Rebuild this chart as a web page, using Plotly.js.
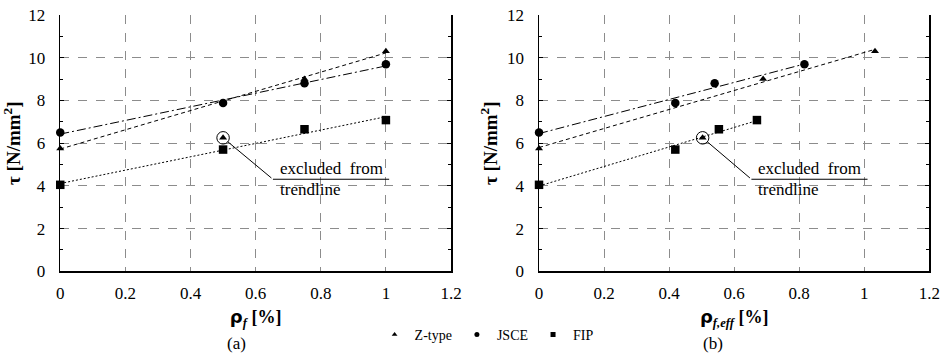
<!DOCTYPE html>
<html>
<head>
<meta charset="utf-8">
<script src="https://cdn.plot.ly/plotly-3.0.1.min.js"></script>
<style>html,body{margin:0;padding:0;background:#fff;}#chart{width:943px;height:353px;}</style>
</head>
<body>
<div id="chart"></div>
<script>
// ---- data ----
const seriesNames = ["Z-type", "JSCE", "FIP"];
const tauZ = [5.75, 6.25, 9.0, 10.3];
const tauJ = [6.5, 7.88, 8.8, 9.7];
const tauF = [4.05, 5.7, 6.65, 7.08];
// (a) nominal fibre ratio
const rhoF_Z = [0, 0.5, 0.75, 1.0];
const rhoF_J = [0, 0.5, 0.75, 1.0];
const rhoF_F = [0, 0.5, 0.75, 1.0];
// (b) effective fibre ratio
const rhoEff_Z = [0, 0.503, 0.689, 1.033];
const rhoEff_J = [0, 0.419, 0.540, 0.816];
const rhoEff_F = [0, 0.419, 0.553, 0.670];
// index of Z-type point excluded from the trendline
const excludedZ = 1;
const xTicks = [0, 0.2, 0.4, 0.6, 0.8, 1, 1.2];
const xTickText = ["0", "0.2", "0.4", "0.6", "0.8", "1", "1.2"];
const yTicks = [0, 2, 4, 6, 8, 10, 12];

// least-squares linear trendline over the included points
function trend(xs, ys, skip) {
  const px = [], py = [];
  xs.forEach((x, i) => { if (i !== skip) { px.push(x); py.push(ys[i]); } });
  const n = px.length;
  const mx = px.reduce((a, b) => a + b, 0) / n, my = py.reduce((a, b) => a + b, 0) / n;
  let sxy = 0, sxx = 0;
  for (let i = 0; i < n; i++) { sxy += (px[i] - mx) * (py[i] - my); sxx += (px[i] - mx) ** 2; }
  const b = sxy / sxx, a = my - b * mx;
  const x0 = Math.min(...px), x1 = Math.max(...px);
  return { x: [x0, x1], y: [a + b * x0, a + b * x1] };
}

const SERIF = "Liberation Serif";
const styles = [
  { sym: "triangle-up", size: 7, dash: "4px,3px" },
  { sym: "circle", size: 8.5, dash: "9px,3px,2px,3px" },
  { sym: "square", size: 8.5, dash: "2px,2px" }
];

function panel(xs, ys, xa, ya) {
  const tr = [];
  xs.forEach((x, k) => {
    const t = trend(x, ys[k], k === 0 ? excludedZ : -1);
    tr.push({ x: t.x, y: t.y, xaxis: xa, yaxis: ya, mode: "lines", showlegend: false,
      line: { color: "#000", width: 1, dash: styles[k].dash }, hoverinfo: "skip" });
  });
  xs.forEach((x, k) => {
    tr.push({ x: x, y: ys[k], xaxis: xa, yaxis: ya, mode: "markers", name: seriesNames[k],
      showlegend: false, cliponaxis: false,
      marker: { symbol: styles[k].sym, size: styles[k].size, color: "#000" } });
  });
  // ring around excluded point
  tr.push({ x: [xs[0][excludedZ]], y: [ys[0][excludedZ]], xaxis: xa, yaxis: ya, mode: "markers",
    showlegend: false, marker: { symbol: "circle-open", size: 12.5, color: "#000", line: { width: 1 } } });
  return tr;
}

const ys = [tauZ, tauJ, tauF];
let traces = [].concat(
  panel([rhoF_Z, rhoF_J, rhoF_F], ys, "x", "y"),
  panel([rhoEff_Z, rhoEff_J, rhoEff_F], ys, "x2", "y2")
);
// legend entries (small symbols as in the reference legend)
seriesNames.forEach((n, k) => {
  traces.push({ x: [null], y: [null], mode: "markers", name: n, xaxis: "x", yaxis: "y",
    marker: { symbol: styles[k].sym, size: 5, color: "#000" } });
});

function xAxis(domain, title) {
  return {
    domain: domain, range: [0, 1.2], tickvals: xTicks, ticktext: xTickText,
    ticks: "", showline: true, linecolor: "#000", linewidth: 1.5,
    showgrid: true, gridcolor: "#8c8c8c", griddash: "dash", gridwidth: 1, zeroline: false,
    tickfont: { family: SERIF, size: 17, color: "#000" }, ticklabelstandoff: 6,
    title: { text: title, font: { family: SERIF, size: 18, color: "#000" }, standoff: 8 }
  };
}
function yAxis(anchor) {
  return {
    domain: [0.2314, 0.9575], range: [0, 12], tickvals: yTicks, anchor: anchor,
    ticks: "inside", ticklen: 4, tickcolor: "#000", tickwidth: 1,
    minor: { tickvals: [1, 3, 5, 7, 9, 11], ticks: "inside", ticklen: 3, tickcolor: "#000", showgrid: false },
    showline: true, mirror: "allticks", linecolor: "#000", linewidth: 1.5,
    showgrid: true, gridcolor: "#8c8c8c", griddash: "dash", gridwidth: 1, zeroline: false,
    tickfont: { family: SERIF, size: 17, color: "#000" }, ticklabelstandoff: 10,
    title: { text: "<b>τ [N/mm<sup>2</sup>]</b>", font: { family: SERIF, size: 19, color: "#000" }, standoff: 4 }
  };
}

const rho = '<span style="font-family:DejaVu Sans">ρ</span>';
const layout = {
  width: 943, height: 353,
  margin: { l: 0, r: 0, t: 0, b: 0 },
  paper_bgcolor: "#fff", plot_bgcolor: "#fff",
  font: { family: SERIF, color: "#000" },
  xaxis: Object.assign(xAxis([0.0639, 0.4783], "<b>" + rho + "<sub><i>f</i></sub> [%]</b>"), { anchor: "y" }),
  xaxis2: Object.assign(xAxis([0.5716, 0.9855], "<b>" + rho + "<sub><i>f,eff</i></sub> [%]</b>"), { anchor: "y2" }),
  yaxis: yAxis("x"),
  yaxis2: yAxis("x2"),
  showlegend: true,
  legend: { orientation: "h", x: 0.516, xanchor: "center", y: 0.051, yanchor: "middle",
    font: { family: SERIF, size: 14, color: "#000" }, itemwidth: 30, bgcolor: "rgba(0,0,0,0)" },
  annotations: [
    { xref: "paper", yref: "paper", x: 0.2513, y: 0.028, text: "(a)", showarrow: false,
      font: { family: SERIF, size: 17 }, xanchor: "center", yanchor: "middle" },
    { xref: "paper", yref: "paper", x: 0.756, y: 0.028, text: "(b)", showarrow: false,
      font: { family: SERIF, size: 17 }, xanchor: "center", yanchor: "middle" }
  ],
  shapes: []
};

// leader + label for the excluded point on each panel
[["x", "y", rhoF_Z], ["x2", "y2", rhoEff_Z]].forEach(([xr, yr, xs]) => {
  const px = xs[excludedZ], py = tauZ[excludedZ];
  layout.annotations.push({ xref: xr, yref: yr, x: px, y: py, axref: xr, ayref: yr, ax: 0.653, ay: 4.31,
    showarrow: true, arrowhead: 0, arrowwidth: 1, arrowcolor: "#000", standoff: 6, text: "" });
  layout.annotations.push({ xref: xr, yref: yr, x: 0.668, y: 4.31, text: "excluded&nbsp;&nbsp;from",
    showarrow: false, xanchor: "left", yanchor: "bottom", yshift: -1, font: { family: SERIF, size: 17 } });
  layout.annotations.push({ xref: xr, yref: yr, x: 0.668, y: 4.31, text: "trendline",
    showarrow: false, xanchor: "left", yanchor: "top", yshift: 1, font: { family: SERIF, size: 17 } });
  layout.shapes.push({ type: "line", xref: xr, yref: yr, x0: 0.653, x1: 1.01, y0: 4.31, y1: 4.31,
    line: { color: "#000", width: 1.2 } });
});

Plotly.newPlot("chart", traces, layout, { displayModeBar: false, staticPlot: true });
</script>
</body>
</html>
